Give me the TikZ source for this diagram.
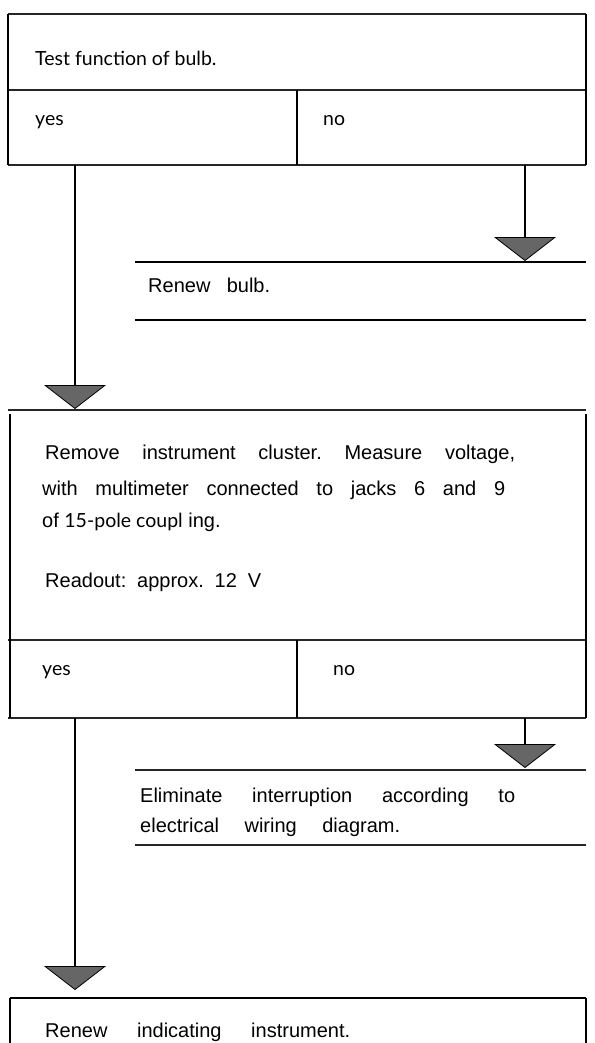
\documentclass[tikz,border=0pt]{standalone}
\usepackage{fontspec}
\setmainfont{Liberation Sans}
\newfontfamily\gill{Lato}
\usetikzlibrary{arrows.meta}
\frenchspacing

% spread the words of one line over a given width
\newcommand{\fillline}[2]{\makebox[#1][s]{#2}}
\newcommand{\gilltext}{\gill\fontsize{19.5}{24}\selectfont}

\tikzset{
  frame/.style={line width=2.2pt},
  rule/.style={line width=1.6pt, black!85},
  bar/.style={line width=2.4pt},
  flow/.style={line width=2pt,
    -{Triangle[width=62pt,length=24pt,fill=black!60,line width=0.8pt]}},
  txt/.style={anchor=base west, inner sep=0pt,
    font=\fontsize{20}{24}\selectfont},
}

\begin{document}
\begin{tikzpicture}[x=1pt,y=-1pt]
\useasboundingbox (0,0) rectangle (594,1043);

% question 1
\draw[rule] (8,14) -- (586,14);
\draw[rule] (8,90) -- (586,90);
\draw[rule] (8,165) -- (586,165);
\draw[frame] (8,14) -- (8,165);
\draw[frame] (586,14) -- (586,165);
\draw[frame] (297,90) -- (297,165);
\node[txt] (q1) at (35,66) {\gilltext Test function of bulb.};
\node[txt] (q1yes) at (35,126) {\gilltext yes};
\node[txt] (q1no) at (323,126) {\gilltext no};
\coordinate (q1y) at (75,165);
\coordinate (q1n) at (525,165);

% action: bulb
\draw[bar] (135,262) -- (586,262);
\draw[bar] (135,320) -- (586,320);
\coordinate (bulbtop) at (525,261);
\node[txt] (bulb) at (148,292) {\fillline{122pt}{Renew bulb.}};

% question 2
\coordinate (q2top) at (75,409);
\draw[rule] (8,410) -- (586,410);
\draw[rule] (8,640) -- (586,640);
\draw[rule] (8,718) -- (586,718);
\draw[frame] (10,414) -- (10,718);
\draw[frame] (586,414) -- (586,718);
\draw[frame] (297,640) -- (297,718);
\node[txt] (q2a) at (45,459) {\fillline{470pt}{Remove instrument cluster. Measure voltage,}};
\node[txt] (q2b) at (42,495) {\fillline{463pt}{with multimeter connected to jacks 6 and 9}};
\node[txt] (q2c) at (42,527) {of {\gilltext 15-pole coupl} ing.};
\node[txt] (q2d) at (45,587) {\fillline{216pt}{Readout: approx. 12 V}};
\node[txt] (q2yes) at (42,675) {\gilltext yes};
\node[txt] (q2no) at (333,675) {\gilltext no};
\coordinate (q2y) at (75,718);
\coordinate (q2n) at (525,718);

% action: wiring
\draw[rule] (135,770) -- (586,770);
\draw[rule] (135,845) -- (586,845);
\coordinate (wiretop) at (525,768);
\node[txt] (wire1) at (140,802) {\fillline{375pt}{Eliminate interruption according to}};
\node[txt] (wire2) at (140,832) {\fillline{260pt}{electrical wiring diagram.}};

% action: instrument
\coordinate (insttop) at (75,990);
\draw[bar] (10,998) -- (586,998);
\draw[frame] (10,998) -- (10,1043);
\draw[frame] (586,998) -- (586,1043);
\node[txt] (inst) at (45,1037) {\fillline{305pt}{Renew indicating instrument.}};

% flow lines
\draw[flow] (q1n) -- (bulbtop);
\draw[flow] (q1y) -- (q2top);
\draw[flow] (q2n) -- (wiretop);
\draw[flow] (q2y) -- (insttop);
\end{tikzpicture}
\end{document}
